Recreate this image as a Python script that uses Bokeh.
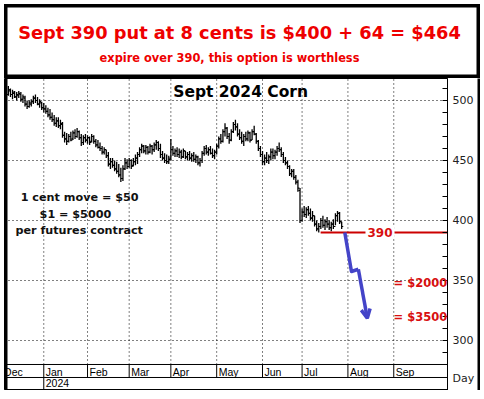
from bokeh.plotting import figure
from bokeh.models import Range1d, FixedTicker, Label, Arrow, OpenHead, ColumnDataSource, Span
from bokeh.layouts import column, row
from bokeh.transform import dodge
from bokeh.embed import file_html
from bokeh.resources import INLINE
from bokeh.core.properties import value

# ---------------- data ----------------
title_text = "Sept 390 put at 8 cents is $400 + 64 = $464"
subtitle_text = "expire over 390, this option is worthless"
chart_title = "Sept 2024 Corn"
notes = ["1 cent move = $50", "$1 = $5000", "per futures contract"]

# trading-day index of each daily bar (1 Dec 2023 = 0)
bar_idx = list(range(3, 164))
highs = [512, 510, 509, 508, 507, 508, 507, 505, 504, 500, 500, 501, 504, 505, 503, 501, 499,
         498, 496, 494, 493, 490, 488, 486, 486, 484, 482, 474, 473, 472, 474, 475, 476, 477, 475, 472, 471, 472,
         471, 470, 472, 471, 468, 467, 465, 462, 461, 459, 457, 452, 452, 450, 449, 447, 444, 446, 452, 451,
         452, 451, 452, 455, 457, 461, 464, 463, 463, 462, 464, 463, 465, 467, 466, 464, 458, 456, 455, 454,
         468, 462, 460, 461, 460, 459, 460, 458, 457, 458, 456, 457, 455, 454, 452, 458, 462, 463, 461, 462, 460, 459,
         464, 470, 472, 476, 481, 478, 473, 476, 482, 484, 481, 476, 474, 472, 474, 475, 474, 476, 479, 473, 467, 462,
         458, 455, 457, 455, 460, 460, 459, 462, 465, 461, 457, 453, 450, 446, 443, 443, 438, 434, 427,
         410, 412, 411, 412, 410, 408, 404, 400, 398, 402, 404, 401, 403, 400, 399, 401, 406, 408, 407, 399]
lows = [504, 503, 501, 502, 500, 502, 499, 498, 495, 493, 494, 495, 497, 498, 496, 494, 492,
        490, 489, 486, 484, 482, 479, 478, 477, 476, 469, 465, 463, 465, 466, 467, 468, 469, 467, 462, 463, 465,
        464, 463, 465, 464, 461, 460, 458, 455, 455, 452, 445, 443, 444, 441, 439, 436, 432, 433, 442, 443,
        444, 443, 445, 446, 447, 453, 456, 456, 455, 455, 456, 455, 457, 459, 458, 452, 450, 448, 447, 447,
        450, 454, 453, 453, 452, 451, 452, 451, 450, 450, 449, 449, 448, 446, 445, 448, 454, 455, 454, 455, 452, 451,
        455, 460, 464, 465, 470, 468, 464, 466, 473, 475, 470, 467, 464, 462, 466, 466, 465, 467, 471, 464, 458, 453,
        446, 446, 448, 447, 450, 451, 451, 454, 457, 453, 448, 446, 443, 437, 436, 434, 430, 424, 398,
        399, 403, 402, 404, 400, 399, 395, 391, 390, 393, 394, 392, 394, 392, 391, 393, 396, 399, 397, 393]
opens = [505, 508, 505, 506, 503, 504, 505, 501, 502, 497, 495, 497, 499, 502, 500, 497, 498,
         494, 493, 491, 488, 486, 484, 481, 483, 479, 480, 471, 468, 466, 470, 468, 473, 470, 474, 469, 465, 469,
         467, 469, 466, 470, 466, 463, 461, 460, 457, 459, 454, 447, 449, 446, 443, 441, 438, 435, 443, 448,
         445, 450, 446, 449, 452, 455, 459, 462, 458, 461, 457, 462, 459, 463, 465, 460, 455, 452, 450, 449,
         452, 459, 456, 458, 455, 457, 453, 458, 453, 455, 452, 454, 451, 453, 448, 450, 456, 460, 457, 459, 456, 454,
         457, 462, 468, 466, 474, 477, 470, 467, 474, 480, 478, 472, 469, 466, 470, 468, 473, 467, 474, 472, 466, 460,
         455, 449, 452, 450, 453, 457, 454, 457, 460, 459, 455, 450, 448, 445, 439, 441, 436, 432, 425,
         400, 407, 405, 409, 406, 402, 404, 397, 393, 395, 400, 396, 399, 397, 394, 397, 395, 404, 406, 399]
closes = [509, 505, 507, 503, 505, 506, 501, 503, 497, 495, 498, 499, 502, 500, 497, 499, 494,
          493, 491, 488, 486, 484, 481, 483, 479, 481, 471, 468, 466, 470, 467, 473, 470, 474, 469, 465, 469, 467,
          469, 465, 470, 466, 463, 461, 460, 457, 459, 454, 447, 449, 446, 443, 441, 438, 435, 443, 448, 445,
          450, 445, 449, 452, 455, 459, 462, 458, 461, 457, 462, 459, 463, 465, 460, 455, 452, 450, 449, 451,
          459, 456, 458, 455, 457, 453, 458, 453, 455, 452, 454, 451, 453, 448, 450, 456, 460, 457, 459, 456, 454, 457,
          462, 468, 466, 474, 477, 470, 467, 474, 480, 478, 472, 469, 466, 470, 468, 473, 467, 474, 472, 466, 460, 455,
          449, 452, 450, 453, 457, 454, 457, 460, 459, 455, 450, 448, 445, 439, 441, 436, 432, 427, 400,
          407, 405, 409, 406, 402, 404, 397, 393, 395, 400, 396, 399, 397, 394, 397, 395, 404, 406, 399, 395]

month_names = ["Dec", "Jan", "Feb", "Mar", "Apr", "May", "Jun", "Jul", "Aug", "Sep"]
month_starts = [0, 20, 41, 61, 81, 103, 125, 144, 166, 188]
year_names = ["2024"]
year_starts = [20]
y_ticks = [300, 350, 400, 450, 500]
y_small_ticks = [290, 300, 310, 320, 330, 340, 350, 360, 370, 380, 390,
                 400, 410, 420, 430, 440, 450, 460, 470, 480, 490, 500, 510]
unit_label = "Day"
unit_label_pos = 268

strike = 390
strike_from = 152.9
proj_x = [164.5, 167.7, 171.0, 175.3]
proj_y = [390, 357.5, 359.4, 318.6]
loss_labels = ["= $2000", "= $3500"]
loss_levels = [348.3, 319.2]

# ---------------- style ----------------
RED = "#ee0000"
DRED = "#d81010"
LRED = "#cc0000"
BLUE = "#4444c8"
BF = "DejaVu Sans"
Y_TOP = 518.33
Y_PLOT_BOT = 280.0
Y_ROW = 269.17
Y_BOT = 258.33
X0, X1 = 1.15, 213.8

# ---------------- title box ----------------
tf = figure(width=476, height=74, x_range=Range1d(0, 476), y_range=Range1d(0, 74),
            output_backend="svg", toolbar_location=None,
            x_axis_location=None, y_axis_location=None, min_border=0)
tf.xgrid.visible = False
tf.ygrid.visible = False
tf.background_fill_color = "white"
tf.border_fill_color = "white"
tf.outline_line_color = "black"
tf.outline_line_width = 6
tf.add_layout(Label(x=235, y=46, text=title_text, text_align="center", text_baseline="middle",
                    text_font=BF, text_font_style="bold", text_font_size="17.8px", text_color=RED))
tf.add_layout(Label(x=225, y=21, text=subtitle_text, text_align="center", text_baseline="middle",
                    text_font=BF, text_font_style="bold", text_font_size="11.4px", text_color=RED))

# ---------------- main chart ----------------
p = figure(width=473, height=312, x_range=Range1d(X0, X1), y_range=Range1d(Y_BOT, Y_TOP),
           y_axis_location="right", x_axis_location=None,
           output_backend="svg", toolbar_location=None,
           min_border_left=0, min_border_right=30, min_border_top=0, min_border_bottom=0)
p.background_fill_color = "white"
p.border_fill_color = "white"
p.outline_line_color = "black"
p.outline_line_width = 1
p.xgrid.visible = False

ax = p.yaxis[0]
ax.ticker = FixedTicker(ticks=[unit_label_pos] + y_ticks, minor_ticks=y_small_ticks)
ax.major_label_overrides = {unit_label_pos: unit_label}
ax.axis_line_color = "black"
ax.major_tick_in = 0
ax.major_tick_out = 0
ax.minor_tick_in = 5
ax.minor_tick_out = 0
ax.minor_tick_line_color = "black"
ax.major_label_text_font = BF
ax.major_label_text_font_size = "11px"
ax.major_label_text_color = "#222222"
ax.major_label_standoff = 5

g = p.ygrid[0]
g.ticker = FixedTicker(ticks=y_ticks)
g.grid_line_color = "black"
g.grid_line_dash = "1 3"
g.grid_line_width = 1

# vertical dotted month grid
p.segment(x0=month_starts[1:], y0=Y_PLOT_BOT, x1=month_starts[1:], y1=Y_TOP,
          line_color="black", line_dash="1 3", line_width=1)

# price bars (high-low with open/close ticks)
src = ColumnDataSource(dict(x=bar_idx, h=highs, l=lows, o=opens, c=closes))
p.segment(x0="x", y0="l", x1="x", y1="h", source=src, line_color="black", line_width=1.3)
p.segment(x0=dodge("x", -0.75), y0="o", x1="x", y1="o", source=src, line_color="black", line_width=1.2)
p.segment(x0="x", y0="c", x1=dodge("x", 0.75), y1="c", source=src, line_color="black", line_width=1.2)

# strike line
p.segment(x0=[strike_from], y0=[strike], x1=[X1 + 20], y1=[strike], line_color=LRED, line_width=2)
p.add_layout(Label(x=181.4, y=strike, text=str(strike), text_align="center", text_baseline="middle",
                   text_font=BF, text_font_style="bold", text_font_size="12px", text_color=DRED,
                   background_fill_color="white", padding=2))

# projected move
p.line(proj_x[:3], proj_y[:3], line_color=BLUE, line_width=3.5, line_join="round")
p.add_layout(Arrow(x_start=proj_x[2], y_start=proj_y[2], x_end=proj_x[3], y_end=proj_y[3],
                   line_color=BLUE, line_width=3.5,
                   end=OpenHead(size=9, line_color=BLUE, line_width=3.5)))
for t, lv in zip(loss_labels, loss_levels):
    p.add_layout(Label(x=187.9, y=lv, text=t, text_align="left", text_baseline="middle",
                       text_font=BF, text_font_style="bold", text_font_size="11.5px", text_color=DRED))

# chart title and notes
p.add_layout(Label(x=114.5, y=506.7, text=chart_title, text_align="center", text_baseline="middle",
                   text_font=BF, text_font_style="bold", text_font_size="15.5px", text_color="black"))
p.add_layout(Label(x=37.2, y=418.8, text=notes[0], text_align="center", text_baseline="middle",
                   text_font=BF, text_font_style="bold", text_font_size="11.2px", text_color="#111111"))
p.add_layout(Label(x=35.2, y=405.4, text=notes[1], text_align="center", text_baseline="middle",
                   text_font=BF, text_font_style="bold", text_font_size="11.2px", text_color="#111111"))
p.add_layout(Label(x=6.4, y=392.0, text=notes[2], text_align="left", text_baseline="middle",
                   text_font=BF, text_font_style="bold", text_font_size="11.2px", text_color="#111111"))

# time axis rows (months / year)
p.add_layout(Span(location=Y_PLOT_BOT, dimension="width", line_color="black", line_width=1))
p.add_layout(Span(location=Y_ROW, dimension="width", line_color="black", line_width=1))
p.segment(x0=month_starts, y0=Y_ROW, x1=month_starts, y1=Y_PLOT_BOT, line_color="black", line_width=1)
p.segment(x0=year_starts, y0=Y_BOT, x1=year_starts, y1=Y_ROW, line_color="black", line_width=1)
p.text(x=month_starts, y=273.9, text=month_names, x_offset=2,
       text_font=value("Liberation Sans"), text_font_size="10.5px", text_align="left",
       text_baseline="middle", text_color="black")
p.text(x=year_starts, y=264.2, text=year_names, x_offset=2,
       text_font=value("Liberation Sans"), text_font_size="10.5px", text_align="left",
       text_baseline="middle", text_color="black")

# thick left frame
p.add_layout(Span(location=X0, dimension="height", line_color="black", line_width=6))


def strip(w, h):
    s = figure(width=w, height=h, output_backend="svg", toolbar_location=None,
               x_axis_location=None, y_axis_location=None, min_border=0)
    s.background_fill_color = "black"
    s.border_fill_color = "black"
    s.outline_line_color = None
    s.xgrid.visible = False
    s.ygrid.visible = False
    return s


layout = column(tf, row(p, strip(3, 312)), strip(476, 3), margin=(4, 4, 4, 4))
open("out.html", "w").write(file_html(layout, INLINE, "Sept 2024 Corn"))
